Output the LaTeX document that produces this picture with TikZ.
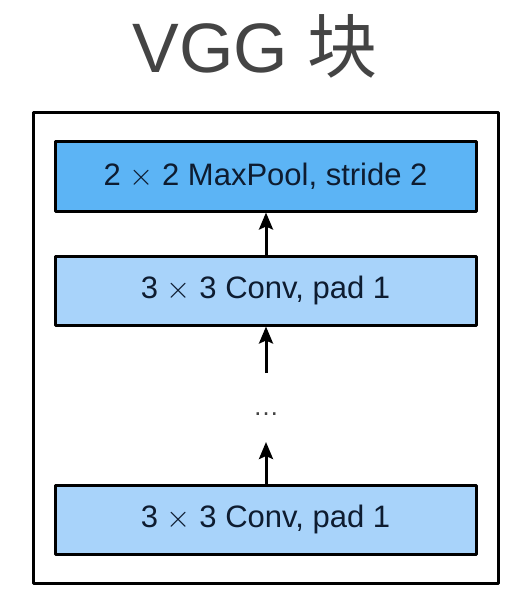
\RequirePackage{fix-cm}
\documentclass[tikz,border=0pt]{standalone}
\usepackage{fontspec}
\setmainfont{Liberation Sans}
\newfontfamily\cjk{Noto Sans CJK SC}
\usetikzlibrary{arrows.meta}
\definecolor{poolblue}{RGB}{92,180,245}
\definecolor{convblue}{RGB}{168,211,250}
\definecolor{labelnavy}{RGB}{14,28,48}
\definecolor{titlegray}{RGB}{68,68,68}
\tikzset{
	layer/.style={draw=black,line width=3pt,minimum width=421pt,minimum height=69pt,inner sep=0pt,
		text=labelnavy,font=\fontsize{31}{37}\selectfont},
	flow/.style={line width=3pt,-{Stealth[length=17pt,width=14pt,inset=3pt]}}
}
\begin{document}
\begin{tikzpicture}[x=1pt,y=-1pt,line join=round]
		%==Phần thông số có thể tùy chỉnh
		\def\xc{265.5}
		\def\xa{266}
		%==============
		\useasboundingbox (0,0) rectangle (530,604);
		\node[anchor=base,text=titlegray,font=\fontsize{70}{84}\selectfont,inner sep=0pt] (title) at (255,73) {VGG {\cjk 块}};
		\draw[line width=3pt] (33,113) rectangle (498,583);
		\node[layer,fill=poolblue] (pool) at (\xc,176.5) {2 $\times$ 2 MaxPool, stride 2};
		\node[layer,fill=convblue] (convtop) at (\xc,290.5) {3 $\times$ 3 Conv, pad 1};
		\node[layer,fill=convblue] (convbot) at (\xc,519.5) {3 $\times$ 3 Conv, pad 1};
		\node[anchor=base,inner sep=0pt,outer sep=0pt,text height=42pt,text depth=27pt,
			text=titlegray,font=\fontsize{26}{30}\selectfont] (dots) at (\xa,415) {\ldots};
		\draw[flow] (convtop.north-|dots) -- (pool.south-|dots);
		\draw[flow] (dots.north) -- (convtop.south-|dots);
		\draw[flow] (convbot.north-|dots) -- (dots.south);
		\end{tikzpicture}
\end{document}
